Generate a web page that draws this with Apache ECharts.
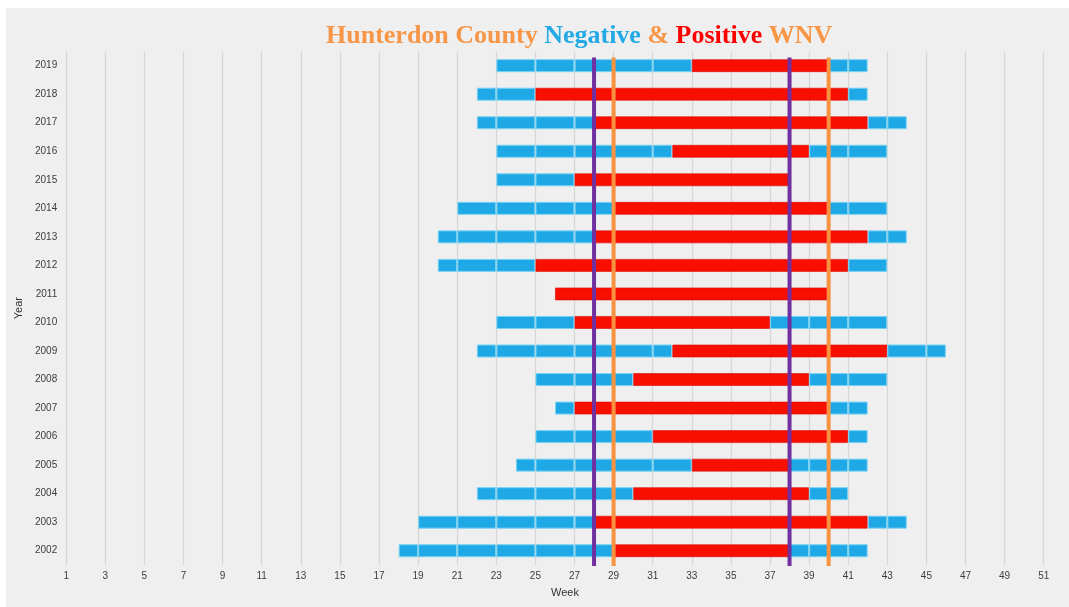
<!DOCTYPE html>
<html><head><meta charset="utf-8">
<script src="https://cdn.jsdelivr.net/npm/echarts@6/dist/echarts.min.js"></script>
<style>html,body{margin:0;padding:0;background:#fff;}
#wrap{position:relative;width:1069px;height:607px;overflow:hidden;}
#panel{position:absolute;left:6px;top:8px;right:0;bottom:0;background:#efefef;}
#chart{position:absolute;left:0;top:0;width:1069px;height:607px;}
</style></head><body>
<div id="wrap"><div id="panel"></div><div id="chart"></div></div>
<script>
// Years (bottom to top)
const years = ['2002','2003','2004','2005','2006','2007','2008','2009','2010','2011','2012','2013','2014','2015','2016','2017','2018','2019'];
// First negative week (start of blue)
const negStart = [18,19,22,24,25,26,25,22,23,26,20,20,21,23,23,22,22,23];
// First positive week (start of red)
const posStart = [29,28,30,33,31,27,30,32,27,26,25,28,29,27,32,28,25,33];
// Last positive week (end of red)
const posEnd   = [38,42,39,38,41,40,39,43,37,40,41,42,40,38,39,42,41,40];
// Last negative week (end of blue)
const negEnd   = [42,44,41,42,42,42,43,46,43,40,43,44,43,38,43,44,42,42];
// Reference lines (weeks)
const purpleWeeks = [28, 38];
const orangeWeeks = [29, 40];

const chart = echarts.init(document.getElementById('chart'), null, {renderer:'canvas'});
const barData = years.map((y,i)=>[negStart[i], i, posStart[i], posEnd[i], negEnd[i]]);
const lineColors = ['#7030a0', '#f79241'];
const lineData = purpleWeeks.map(w=>[w, 0, 0]).concat(orangeWeeks.map(w=>[w, 0, 1]));

function renderBars(params, api){
  const yi = api.value(1);
  const a = api.value(0), b = api.value(2), c = api.value(3), d = api.value(4);
  const yc = api.coord([a, yi])[1];
  const h = 12;
  const xs = v => api.coord([v, yi])[0];
  const children = [];
  function blue(from, to){
    if (to <= from) return;
    const cuts = [from];
    for (let w = Math.floor(from)+1; w < to; w++) if (w % 2 === 1) cuts.push(w);
    cuts.push(to);
    for (let i=0;i<cuts.length-1;i++){
      const x0 = xs(cuts[i]), x1 = xs(cuts[i+1]);
      children.push({type:'rect', shape:{x:x0+0.6, y:yc-h/2, width:x1-x0-1.2, height:h},
        style:{fill:'#1fa8e6', stroke:'#7ad3f3', lineWidth:1}});
    }
  }
  blue(a, b);
  if (c > b) {
    const x0 = xs(b), x1 = xs(c);
    children.push({type:'rect', shape:{x:x0+0.5, y:yc-h/2, width:x1-x0-1, height:h},
      style:{fill:'#f80f00', stroke:'#d80800', lineWidth:0.6}});
  }
  blue(c, d);
  return {type:'group', children};
}

function renderLines(params, api){
  const x = api.coord([api.value(0), 0])[0];
  const cs = params.coordSys;
  return {type:'line', shape:{x1:x, y1:cs.y+6, x2:x, y2:cs.y+cs.height+1},
    style:{stroke:lineColors[api.value(2)], lineWidth:4}};
}

chart.setOption({
  animation:false,
  backgroundColor:'transparent',
  title:{
    text:'{o|Hunterdon County }{b|Negative }{o|& }{r|Positive }{o|WNV}',
    left:321, top:18,
    textStyle:{
      rich:{
        o:{color:'#f79646', fontFamily:'Liberation Serif', fontWeight:'bold', fontSize:26},
        b:{color:'#23aae6', fontFamily:'Liberation Serif', fontWeight:'bold', fontSize:26},
        r:{color:'#ff0000', fontFamily:'Liberation Serif', fontWeight:'bold', fontSize:26}
      }
    }
  },
  grid:{left:66.2, right:25.3, top:51.4, bottom:42, containLabel:false},
  xAxis:{
    type:'value', min:1, max:51, interval:2,
    name:'Week', nameLocation:'middle', nameGap:22,
    nameTextStyle:{color:'#333', fontSize:11, fontFamily:'Liberation Sans', padding:[0,0,0,20]},
    axisLine:{show:false}, axisTick:{show:false},
    axisLabel:{color:'#3c3c3c', fontSize:10, fontFamily:'Liberation Sans', margin:6},
    splitLine:{show:true, lineStyle:{color:'#d6d6d6', width:1.2}}
  },
  yAxis:{
    type:'category', data:years,
    name:'Year', nameLocation:'middle', nameGap:37,
    nameTextStyle:{color:'#333', fontSize:11, fontFamily:'Liberation Sans'},
    axisLine:{show:false}, axisTick:{show:false},
    axisLabel:{color:'#3c3c3c', fontSize:10, fontFamily:'Liberation Sans', margin:9},
    splitLine:{show:false}
  },
  series:[
    {type:'custom', renderItem:renderBars, data:barData, encode:{x:0, y:1}, z:2, silent:true},
    {type:'custom', renderItem:renderLines, data:lineData, encode:{x:0, y:1}, z:5, silent:true, clip:false}
  ]
});
</script>
</body></html>
